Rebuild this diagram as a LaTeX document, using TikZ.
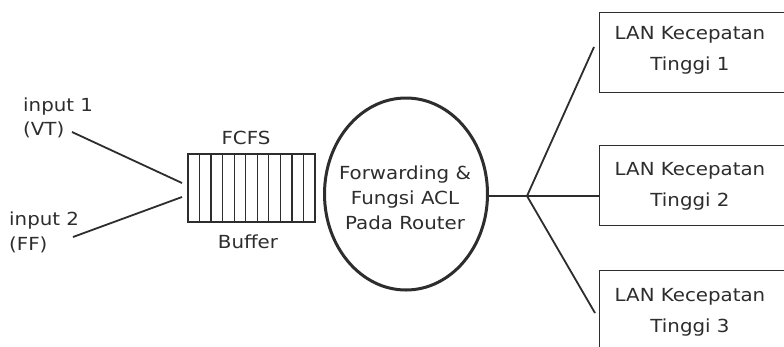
\documentclass[tikz,border=0pt]{standalone}
\usepackage{fontspec}
\setmainfont[FakeStretch=1.1]{DejaVu Sans}
\usetikzlibrary{shapes.geometric,calc}
\definecolor{ink}{RGB}{45,45,45}
\begin{document}
\begin{tikzpicture}[x=1pt,y=-1pt,
  every node/.style={text=ink},
  txt/.style={font=\fontsize{18}{25}\selectfont, inner sep=0pt},
  lanbox/.style={draw=ink, line width=1.4pt, rectangle, minimum width=220pt, minimum height=80pt, inner sep=0pt, anchor=north west},
  lantext/.style={font=\fontsize{18}{31}\selectfont, align=center, inner sep=0pt},
  wire/.style={draw=ink, line width=1.8pt},
  cell/.style={draw=ink, line width=1.3pt}]
\useasboundingbox (0,0) rectangle (784,346);
\clip (0,0) rectangle (784,346);
\path[fill=white] (0,0) rectangle (784,346);

% inputs
\node[txt, anchor=base west] (in1a) at (23,111) {input 1};
\node[txt, anchor=base west] (in1b) at (23,135) {(VT)};
\node[txt, anchor=base west] (in2a) at (9,225) {input 2};
\node[txt, anchor=base west] (in2b) at (9,250) {(FF)};
\coordinate (in1e) at (72,132);
\coordinate (in2e) at (73,237);

% buffer
\node[draw=ink, line width=1.3pt, rectangle, minimum width=127pt, minimum height=68pt, inner sep=0pt] (buf) at (251.5,188) {};
\foreach \i in {1,...,10} {
  \draw[cell] (188+\i*11.545,154) -- (188+\i*11.545,222);
}
\node[txt, anchor=base] (fcfs) at (246,144) {FCFS};
\node[txt, anchor=base] (bufl) at (248,248) {Buffer};
\coordinate (b1) at (182,183);
\coordinate (b2) at (182,197);
\draw[wire] (in1e) -- (b1);
\draw[wire] (in2e) -- (b2);

% router
\node[draw=ink, line width=3pt, ellipse, minimum width=163pt, minimum height=192pt, inner sep=0pt] (rt) at (406,194) {};
\node[font=\fontsize{18}{25}\selectfont, align=center, inner sep=0pt] (rtt) at (405,198) {Forwarding \&\\Fungsi ACL\\Pada Router};

% LAN boxes
\node[lanbox] (l1) at (599,12) {};
\node[lanbox] (l2) at (599,144.5) {};
\node[lanbox] (l3) at (599,270) {};
\node[lantext] (t1) at (690,50) {LAN Kecepatan\\Tinggi 1};
\node[lantext] (t2) at (690,186) {LAN Kecepatan\\Tinggi 2};
\node[lantext] (t3) at (690,312) {LAN Kecepatan\\Tinggi 3};

\coordinate (j) at (527,196);
\coordinate (e1) at (594,47);
\coordinate (e2) at (599,196);
\coordinate (e3) at (595,313);
\draw[wire] (rt.east |- j) -- (j) -- (e2);
\draw[wire] (j) -- (e1);
\draw[wire] (j) -- (e3);
\end{tikzpicture}
\end{document}
